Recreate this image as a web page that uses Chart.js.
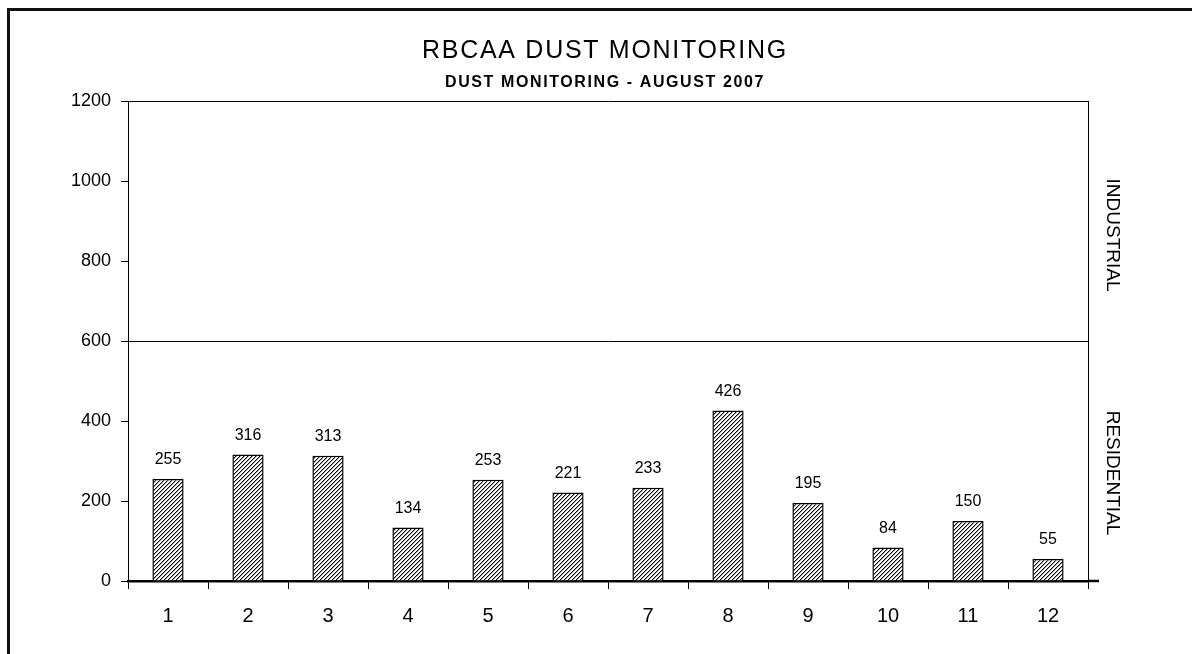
<!DOCTYPE html>
<html>
<head>
<meta charset="utf-8">
<title>RBCAA Dust Monitoring</title>
<script src="https://cdn.jsdelivr.net/npm/chart.js@4/dist/chart.umd.min.js"></script>
<style>
  html, body { margin: 0; padding: 0; background: #fff; }
  #wrap { position: relative; width: 1192px; height: 654px; overflow: hidden; }
  #frame { position: absolute; left: 7px; top: 8px; right: -10px; bottom: -10px;
           border-top: 3px solid #111; border-left: 3px solid #111; pointer-events: none; }
  canvas { position: absolute; left: 0; top: 0; }
</style>
</head>
<body>
<div id="wrap">
  <canvas id="dust-chart" width="1192" height="654"></canvas>
  <div id="frame"></div>
</div>
<script>
// chart data
const sites = ['1', '2', '3', '4', '5', '6', '7', '8', '9', '10', '11', '12'];
const dustValues = [255, 316, 313, 134, 253, 221, 233, 426, 195, 84, 150, 55];
const yTicks = [0, 200, 400, 600, 800, 1000, 1200];
const limitLine = 600;
const zoneLabels = ['INDUSTRIAL', 'RESIDENTIAL'];

const titleText = 'RBCAA DUST MONITORING';
const subtitleText = 'DUST MONITORING - AUGUST 2007';
const fontName = '"Liberation Sans", Arial, sans-serif';

// diagonal hatch like the old excel fill
function makeHatch() {
    var tile = document.createElement('canvas');
    tile.width = 4;
    tile.height = 4;
    var c = tile.getContext('2d');
    c.fillStyle = '#fff';
    c.fillRect(0, 0, 4, 4);
    c.fillStyle = '#000';
    for (var i = 0; i < 4; i++) {
        c.fillRect(i, 3 - i, 1, 1);
    }
    c.fillStyle = 'rgba(0,0,0,0.35)';
    for (var j = 0; j < 4; j++) {
        c.fillRect((j + 1) % 4, 3 - j, 1, 1);
    }
    return c.createPattern(tile, 'repeat');
}

// titles, value labels, zone names and the frame bits
const decorations = {
    id: 'decorations',
    afterDraw(chart) {
        const ctx = chart.ctx;
        const area = chart.chartArea;
        const y = chart.scales.y;
        const midX = (area.left + area.right) / 2 - 3;

        ctx.save();
        ctx.fillStyle = '#000';
        ctx.textAlign = 'center';
        ctx.textBaseline = 'alphabetic';
        ctx.font = '25px ' + fontName;
        ctx.letterSpacing = '1.7px';
        ctx.fillText(titleText, midX, 58);
        ctx.font = 'bold 16px ' + fontName;
        ctx.letterSpacing = '1.6px';
        ctx.fillText(subtitleText, midX, 87);
        ctx.letterSpacing = '0px';

        // value above each bar
        ctx.font = '16px ' + fontName;
        ctx.textBaseline = 'middle';
        const meta = chart.getDatasetMeta(0);
        meta.data.forEach(function (bar, i) {
            ctx.fillText(String(dustValues[i]), bar.x, bar.y - 19);
        });

        // right border of plot and the longer zero line
        ctx.strokeStyle = '#000';
        ctx.lineWidth = 1;
        ctx.beginPath();
        ctx.moveTo(area.right + 0.5, area.top);
        ctx.lineTo(area.right + 0.5, area.bottom);
        ctx.stroke();
        ctx.lineWidth = 2.5;
        ctx.beginPath();
        ctx.moveTo(area.right, y.getPixelForValue(0));
        ctx.lineTo(area.right + 11, y.getPixelForValue(0));
        ctx.stroke();

        // zone names, rotated
        ctx.font = '19px ' + fontName;
        const bands = [
            (y.getPixelForValue(yTicks[yTicks.length - 1]) + y.getPixelForValue(limitLine)) / 2 + 14,
            (y.getPixelForValue(limitLine) + y.getPixelForValue(0)) / 2 + 12
        ];
        zoneLabels.forEach(function (label, i) {
            ctx.save();
            ctx.translate(area.right + 24, bands[i]);
            ctx.rotate(Math.PI / 2);
            ctx.textAlign = 'center';
            ctx.textBaseline = 'middle';
            ctx.fillText(label, 0, 0);
            ctx.restore();
        });
        ctx.restore();
    }
};

var ctx = document.getElementById('dust-chart').getContext('2d');

var dustChart = new Chart(ctx, {
    type: 'bar',
    data: {
        labels: sites,
        datasets: [{
            data: dustValues,
            backgroundColor: makeHatch(),
            borderColor: '#000',
            borderWidth: 1.5,
            barPercentage: 0.39,
            categoryPercentage: 1
        }]
    },
    options: {
        responsive: false,
        animation: false,
        events: [],
        layout: { padding: { left: 0, right: 104, top: 101, bottom: 0 } },
        plugins: {
            legend: { display: false },
            tooltip: { enabled: false },
            title: { display: false }
        },
        scales: {
            x: {
                offset: true,
                grid: {
                    offset: true,
                    drawOnChartArea: false,
                    drawTicks: true,
                    tickLength: 8,
                    tickColor: '#000',
                    tickWidth: 1
                },
                border: { display: true, color: '#000', width: 2.5 },
                ticks: {
                    color: '#000',
                    padding: 15,
                    font: { family: fontName, size: 20 }
                },
                afterFit: function (scale) { scale.height = 73; }
            },
            y: {
                min: 0,
                max: 1200,
                afterBuildTicks: function (scale) {
                    scale.ticks = yTicks.map(v => ({ value: v }));
                },
                grid: {
                    drawTicks: true,
                    tickLength: 7,
                    tickColor: '#000',
                    color: function (c) {
                        if (!c.tick) return 'transparent';
                        return (c.tick.value === limitLine || c.tick.value === 1200) ? '#000' : 'transparent';
                    },
                    lineWidth: 1
                },
                border: { display: true, color: '#000', width: 1 },
                ticks: {
                    color: '#000',
                    padding: 10,
                    font: { family: fontName, size: 18 },
                    callback: function (value) { return String(value); }
                },
                afterFit: function (scale) { scale.width = 128; }
            }
        }
    },
    plugins: [decorations]
});
</script>
</body>
</html>
